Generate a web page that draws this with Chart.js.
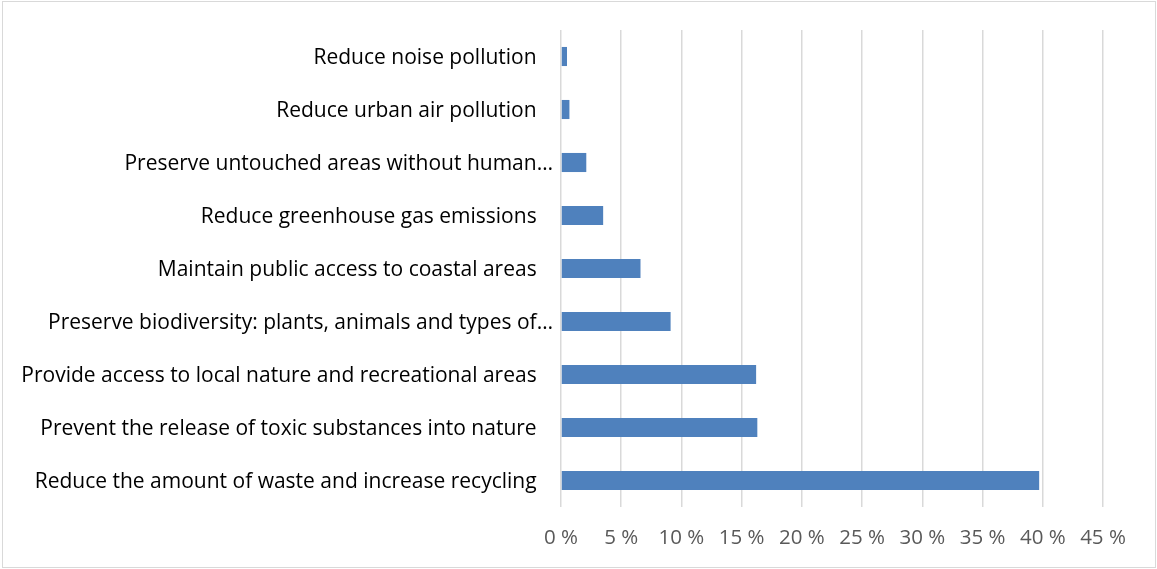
<!DOCTYPE html>
<html>
<head>
<meta charset="utf-8">
<script src="https://cdn.jsdelivr.net/npm/chart.js@4"></script>
<style>
  html, body { margin: 0; padding: 0; background: #fff; }
  #wrap { position: relative; width: 1157px; height: 569px; }
  #frame { position: absolute; left: 2px; top: 1px; width: 1152px; height: 565px; border: 1px solid #d9d9d9; pointer-events: none; }
  canvas { position: absolute; left: 0; top: 0; }
</style>
</head>
<body>
<div id="wrap">
  <canvas id="chart" width="1157" height="569"></canvas>
  <div id="frame"></div>
</div>
<script>
// categories, listed top to bottom as in the picture
const categories = [
  "Reduce noise pollution   ",
  "Reduce urban air pollution   ",
  "Preserve untouched areas without human…",
  "Reduce greenhouse gas emissions   ",
  "Maintain public access to coastal areas   ",
  "Preserve biodiversity: plants, animals and types of…",
  "Provide access to local nature and recreational areas   ",
  "Prevent the release of toxic substances into nature   ",
  "Reduce the amount of waste and increase recycling   "
];
const shares = [0.5, 0.7, 2.1, 3.5, 6.6, 9.1, 16.2, 16.3, 39.7];
const xTicks = [0, 5, 10, 15, 20, 25, 30, 35, 40, 45];

const font = "Open Sans";

new Chart(document.getElementById("chart").getContext("2d"), {
  type: "bar",
  data: {
    labels: categories,
    datasets: [{
      data: shares,
      backgroundColor: "#4f81bd",
      borderWidth: 0,
      barPercentage: 0.72,
      categoryPercentage: 0.5
    }]
  },
  options: {
    indexAxis: "y",
    responsive: false,
    animation: false,
    layout: { padding: { top: 30, right: 54, bottom: 0, left: 0 } },
    plugins: { legend: { display: false }, tooltip: { enabled: false } },
    scales: {
      x: {
        min: 0,
        max: 45,
        afterBuildTicks: (s) => { s.ticks = xTicks.map(v => ({ value: v })); },
        afterFit: (s) => { s.height = 62; },
        grid: { color: "#d9d9d9", lineWidth: 1.5, drawTicks: false },
        border: { display: false },
        ticks: {
          padding: 19,
          color: "#595959",
          font: { family: font, size: 20.5 },
          callback: v => v + " %"
        }
      },
      y: {
        afterFit: (s) => { s.width = 561; },
        grid: { display: false },
        border: { display: false },
        ticks: {
          padding: 0,
          labelOffset: 2,
          color: "#000",
          font: { family: font, size: 21 }
        }
      }
    }
  }
});
</script>
</body>
</html>
